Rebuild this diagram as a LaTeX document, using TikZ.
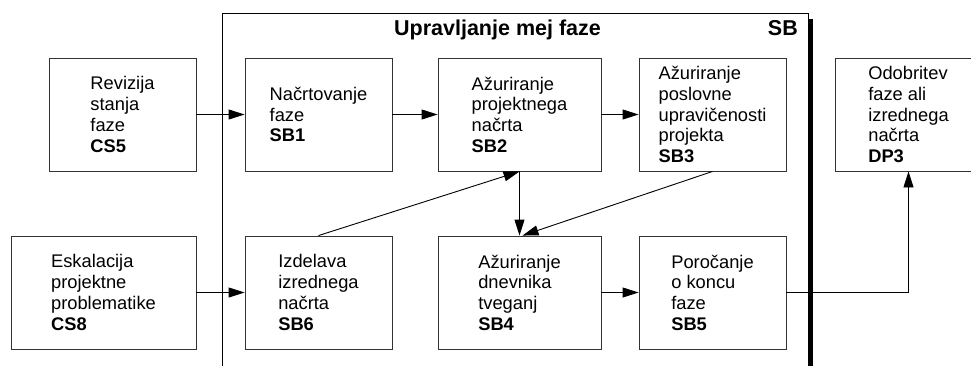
\documentclass[tikz,border=0pt]{standalone}
\usepackage{fontspec}
\setmainfont{Liberation Sans}
\usetikzlibrary{arrows.meta}
\begin{document}
\begin{tikzpicture}[x=1pt,y=-1pt,
  proc/.style={draw=black!80,line width=0.9pt,inner sep=0pt,align=left,
    minimum width=147pt,minimum height=113pt,
    font=\fontsize{18.3pt}{20.7pt}\selectfont},
  wide/.style={minimum width=163pt},
  heading/.style={font=\fontsize{21.5pt}{24pt}\selectfont\bfseries,inner sep=0pt},
  flow/.style={line width=0.9pt,-{Triangle[length=16pt,width=10pt]}}]
\useasboundingbox (0,0) rectangle (971,365);
\clip (0,0) rectangle (971,365);

% stage frame with its heavy right edge
\draw[line width=0.9pt] (222,370) -- (222,13.3) -- (808,13.3) -- (808,370);
\draw[line width=4.5pt] (810.7,19) -- (810.7,370);
\node[heading,anchor=base] (title) at (497.5,35.5) {Upravljanje mej faze};
\node[heading,anchor=base east] (sbtag) at (798,35.5) {SB};

% process boxes
\node[proc] (cs5) at (122.5,114.5) {Revizija\\stanja\\faze\\\textbf{CS5}};
\node[proc] (sb1) at (318.5,114.5) {Načrtovanje\\faze\\\textbf{SB1}};
\node[proc,wide] (sb2) at (519.5,114.5) {Ažuriranje\\projektnega\\načrta\\\textbf{SB2}};
\node[proc] (sb3) at (712.5,114.5) {Ažuriranje\\poslovne\\upravičenosti\\projekta\\\textbf{SB3}};
\node[proc] (dp3) at (908.5,114.5) {Odobritev\\faze ali\\izrednega\\načrta\\\textbf{DP3}};

\node[proc,minimum width=185pt] (cs8) at (103.5,292.5) {Eskalacija\\projektne\\problematike\\\textbf{CS8}};
\node[proc] (sb6) at (318.5,292.5) {Izdelava\\izrednega\\načrta\\\textbf{SB6}};
\node[proc,wide] (sb4) at (519.5,292.5) {Ažuriranje\\dnevnika\\tveganj\\\textbf{SB4}};
\node[proc] (sb5) at (712.5,292.5) {Poročanje\\o koncu\\faze\\\textbf{SB5}};

% connectors
\draw[flow] (cs5) -- (sb1);
\draw[flow] (sb1) -- (sb2);
\draw[flow] (sb2) -- (sb3);
\draw[flow] (cs8) -- (sb6);
\draw[flow] (sb4) -- (sb5);
\draw[flow] (sb6.north) -- (sb2.south);
\draw[flow] (sb2.south) -- (sb4.north);
\draw[flow] (sb3.south) -- ([xshift=3pt]sb4.north);
\draw[flow] (sb5.east) -| (dp3.south);
\end{tikzpicture}
\end{document}
